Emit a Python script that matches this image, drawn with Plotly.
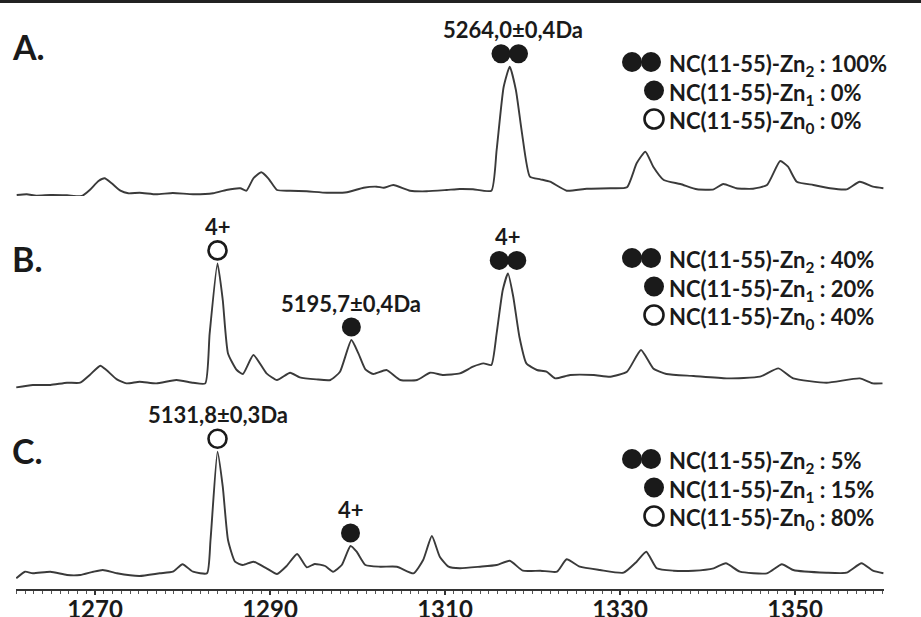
import plotly.graph_objects as go

# ---------------- data ----------------
MZ_A = [1261.05, 1262.2, 1263.3, 1264.9, 1266.8, 1268.5, 1269.4, 1270.4, 1271.1, 1271.9, 1272.9, 1273.8,
        1275.1, 1277.0, 1278.9, 1281.2, 1283.5, 1285.0, 1286.6, 1287.3, 1288.1, 1289.0, 1289.8, 1290.8,
        1292.3, 1294.2, 1296.5, 1298.8, 1300.7, 1302.2, 1303.0, 1304.1, 1306.0, 1307.9, 1310.2, 1311.7,
        1313.2, 1315.3, 1315.9, 1316.7, 1317.4, 1318.1, 1318.8, 1319.7, 1320.9, 1322.0, 1323.9, 1326.2,
        1328.9, 1330.8, 1331.9, 1332.9, 1333.8, 1335.0, 1336.9, 1338.8, 1340.7, 1341.8, 1343.3, 1345.2,
        1346.8, 1348.3, 1349.2, 1350.2, 1352.1, 1354.0, 1355.9, 1357.4, 1358.9, 1360.1]
INT_A = [0.0, 0.7, -0.7, 0.0, -0.3, -1.0, 5.0, 14.0, 16.7, 11.7, 4.3, 1.7,
         2.3, 0.7, 2.0, 0.7, 1.7, 5.0, 6.7, 4.3, 16.7, 22.7, 16.7, 5.0,
         4.3, 3.7, 2.3, 2.7, 7.3, 8.3, 7.3, 10.0, 4.3, 3.7, 5.0, 6.0,
         5.7, 4.3, 45.0, 108.0, 128.3, 105.0, 61.7, 18.3, 15.7, 13.3, 4.3, 6.3,
         6.7, 7.7, 31.7, 43.3, 28.3, 15.0, 11.0, 5.7, 5.7, 11.0, 6.7, 6.3,
         10.0, 34.0, 28.3, 13.3, 10.0, 6.7, 5.7, 13.3, 8.3, 6.7]

MZ_B = [1261.0, 1262.9, 1264.9, 1266.8, 1268.3, 1269.4, 1270.6, 1271.3, 1272.5, 1273.6, 1275.1, 1277.0,
        1279.3, 1281.2, 1282.6, 1283.1, 1284.0, 1284.6, 1285.2, 1286.2, 1286.9, 1288.1, 1289.6, 1290.8,
        1292.3, 1293.4, 1295.3, 1296.9, 1298.0, 1299.3, 1300.1, 1300.9, 1301.8, 1303.3, 1304.9, 1306.8,
        1308.3, 1309.8, 1311.7, 1313.2, 1314.4, 1315.3, 1315.9, 1316.6, 1317.2, 1317.8, 1318.5, 1319.3,
        1320.5, 1321.6, 1322.6, 1324.3, 1327.0, 1328.9, 1330.8, 1332.4, 1333.8, 1335.3, 1338.4, 1342.2,
        1346.0, 1348.1, 1349.8, 1353.6, 1357.4, 1358.9, 1360.0]
INT_B = [-0.7, 1.7, 1.7, 4.0, 4.0, 11.7, 21.0, 16.7, 7.3, 3.3, 5.0, 3.3,
         6.7, 4.0, 3.3, 53.0, 123.3, 86.7, 33.3, 16.7, 12.7, 31.7, 13.3, 6.7,
         14.0, 9.3, 7.3, 6.7, 15.0, 46.7, 33.3, 17.3, 12.7, 16.7, 6.7, 6.7,
         14.0, 11.7, 13.3, 20.0, 23.3, 21.7, 53.3, 96.7, 113.3, 90.0, 50.0, 23.3,
         16.7, 15.0, 8.3, 11.7, 11.7, 10.0, 15.0, 36.7, 18.3, 12.7, 10.7, 8.3,
         10.0, 18.3, 8.3, 4.0, 8.3, 3.3, 3.3]

MZ_C = [1261.0, 1262.0, 1262.9, 1264.9, 1266.8, 1268.3, 1269.8, 1270.9, 1272.5, 1275.1, 1277.4, 1278.9,
        1280.0, 1281.2, 1282.8, 1283.2, 1284.0, 1284.6, 1285.2, 1286.0, 1286.9, 1288.1, 1289.6, 1290.8,
        1291.9, 1293.1, 1294.2, 1295.1, 1296.3, 1297.2, 1298.2, 1299.2, 1299.9, 1300.9, 1302.6, 1304.5,
        1306.4, 1307.5, 1308.5, 1309.4, 1310.4, 1311.7, 1314.0, 1315.9, 1317.4, 1318.9, 1320.9, 1322.8,
        1323.9, 1325.4, 1327.7, 1330.4, 1331.9, 1333.0, 1334.2, 1336.1, 1338.4, 1340.7, 1342.1, 1343.7,
        1346.8, 1348.5, 1349.8, 1353.6, 1355.9, 1357.6, 1358.9, 1360.1]
INT_C = [-3.3, 3.3, 1.7, 3.3, 0.0, 0.0, 3.3, 5.0, 1.7, -1.0, 1.7, 3.3,
         10.7, 3.3, 1.7, 35.0, 123.3, 88.3, 35.0, 13.3, 10.0, 13.3, 6.7, 1.0,
         9.0, 21.0, 7.7, 11.0, 9.0, 3.3, 10.0, 29.0, 23.3, 10.0, 8.3, 8.3,
         1.7, 15.0, 39.0, 18.3, 8.3, 6.7, 8.3, 10.0, 14.3, 4.3, 4.3, 3.3,
         15.7, 8.3, 5.0, 2.3, 13.3, 23.3, 6.7, 4.3, 4.3, 6.7, 11.7, 3.3,
         1.7, 10.7, 5.0, 2.3, 2.3, 11.7, 4.3, 1.7]

TICK_VALUES = [1270, 1290, 1310, 1330, 1350]
X_TITLE = "m/z"
PANEL_LABELS = ["A.", "B.", "C."]
SPECIES = ["NC(11-55)-Zn<sub>2</sub>", "NC(11-55)-Zn<sub>1</sub>", "NC(11-55)-Zn<sub>0</sub>"]
ZINC_COUNTS = [2, 1, 0]
PERCENTS = [[100, 0, 0], [40, 20, 40], [5, 15, 80]]
# peak labels: (panel, peak m/z, zinc count, text above the symbol)
PEAK_LABELS = [
    (0, 1317.4, 2, "5264,0±0,4Da"),
    (1, 1284.0, 0, "4+"),
    (1, 1299.3, 1, "5195,7±0,4Da"),
    (1, 1317.2, 2, "4+"),
    (2, 1284.0, 0, "5131,8±0,3Da"),
    (2, 1299.2, 1, "4+"),
]

# ---------------- styling / geometry ----------------
W, H = 921, 617
ML, MR, MT, MB = 16, 37, 0, 28
PW, PH = W - ML - MR, H - MT - MB
FONT = "Lato, Open Sans, DejaVu Sans, sans-serif"
INK = "#1a1a1a"
LINE = "#3a3a3a"
X_RANGE = [1260.97, 1360.17]
Y_RANGES = [[-1, 195], [-5.3, 190.7], [-14, 183]]
DOMAINS = [[1 - 196 / PH, 1], [1 - 392 / PH, 1 - 196 / PH], [0, 1 - 392 / PH]]
YREFS = ["y", "y2", "y3"]
SERIES = [(MZ_A, INT_A), (MZ_B, INT_B), (MZ_C, INT_C)]

fig = go.Figure()

for i, (mz, inten) in enumerate(SERIES):
    fig.add_trace(go.Scatter(x=mz, y=inten, xaxis="x", yaxis=YREFS[i], mode="lines",
                             line=dict(color=LINE, width=1.9, shape="spline", smoothing=0.5),
                             hoverinfo="skip", showlegend=False))


def symbol_trace(xs, ys, n_zn, xaxis, yaxis, size=19):
    if n_zn == 0:
        marker = dict(symbol="circle-open", size=size - 1, color=INK, line=dict(width=2.6, color=INK))
    else:
        marker = dict(symbol="circle", size=size, color=INK, line=dict(width=0))
    return go.Scatter(x=xs, y=ys, xaxis=xaxis, yaxis=yaxis, mode="markers", marker=marker,
                      cliponaxis=False, hoverinfo="skip", showlegend=False)


# peak symbols and labels
SYM_GAP = 13      # px above peak top (1 y-unit = 1 px)
LABEL_GAP = 24    # px above symbol centre
for panel, pmz, nzn, label in PEAK_LABELS:
    mz, inten = SERIES[panel]
    j = min(range(len(mz)), key=lambda k: abs(mz[k] - pmz))
    ys = inten[j] + SYM_GAP
    xs = [pmz - 1.0, pmz + 1.0] if nzn == 2 else [pmz]
    fig.add_trace(symbol_trace(xs, [ys] * len(xs), nzn, "x", YREFS[panel]))
    fig.add_annotation(x=pmz, y=ys + LABEL_GAP, xref="x", yref=YREFS[panel],
                       text="<b>%s</b>" % label, showarrow=False,
                       font=dict(family=FONT, size=22, color=INK),
                       xanchor="center", yanchor="middle", xshift=3 if panel == 0 else 0)

# right-hand composition legends (pixel overlay axes)
LEG_TOP = [62, 258, 459]
ROW_STEP = 28.5
for p in range(3):
    for r in range(3):
        py = LEG_TOP[p] + r * ROW_STEP
        n = ZINC_COUNTS[r]
        xs = [632, 651] if n == 2 else [654]
        fig.add_trace(symbol_trace(xs, [py] * len(xs), n, "x2", "y4", size=20))
        fig.add_annotation(x=667, y=py, xref="x2", yref="y4",
                           text="<b>%s : %d%%</b>" % (SPECIES[r], PERCENTS[p][r]),
                           showarrow=False, font=dict(family=FONT, size=22, color=INK),
                           xanchor="left", yanchor="middle", yshift=-3)

# panel letters
for p, (lx, ly) in enumerate([(28, 46), (27, 258), (27, 450)]):
    fig.add_annotation(x=lx, y=ly, xref="x2", yref="y4", text="<b>%s</b>" % PANEL_LABELS[p],
                       showarrow=False, font=dict(family=FONT, size=34, color=INK),
                       xanchor="center", yanchor="middle")

# axis title m/z
fig.add_annotation(x=900, y=606, xref="x2", yref="y4", text="<b>%s</b>" % X_TITLE, showarrow=False,
                   font=dict(family=FONT, size=24, color=INK), xanchor="center", yanchor="middle")

# top frame line
fig.add_shape(type="line", xref="paper", yref="paper", x0=-ML / PW, x1=(W - ML) / PW,
              y0=1 - 1.5 / PH, y1=1 - 1.5 / PH, line=dict(color="#222", width=3))

layout = dict(
    width=W, height=H, margin=dict(l=ML, r=MR, t=MT, b=MB, autoexpand=False),
    paper_bgcolor="white", plot_bgcolor="rgba(0,0,0,0)", showlegend=False,
    font=dict(family=FONT, color=INK),
    xaxis=dict(range=X_RANGE, anchor="y3", showgrid=False, zeroline=False, automargin=False,
               showline=True, linecolor="#333", linewidth=2,
               ticks="outside", ticklen=4, tickwidth=1.5, tickcolor="#333",
               tickvals=TICK_VALUES, ticktext=["<b>%d</b>" % v for v in TICK_VALUES],
               ticklabelstandoff=-6,
               tickfont=dict(family=FONT, size=24, color=INK),
               minor=dict(ticks="outside", dtick=1, tick0=1260, ticklen=3, tickwidth=1, tickcolor="#555")),
    xaxis2=dict(range=[ML, W - MR], anchor="y4", visible=False, domain=[0, 1], automargin=False),
    yaxis4=dict(range=[PH, 0], anchor="x2", visible=False, domain=[0, 1], automargin=False),
)
for i in range(3):
    key = "yaxis" if i == 0 else "yaxis%d" % (i + 1)
    layout[key] = dict(range=Y_RANGES[i], domain=DOMAINS[i], anchor="x", visible=False,
                       showgrid=False, zeroline=False, automargin=False)
fig.update_layout(**layout)

fig.write_html("out.html", config={"displayModeBar": False, "staticPlot": True},
               post_script="document.body.style.margin='0px';document.body.style.overflow='hidden';")
